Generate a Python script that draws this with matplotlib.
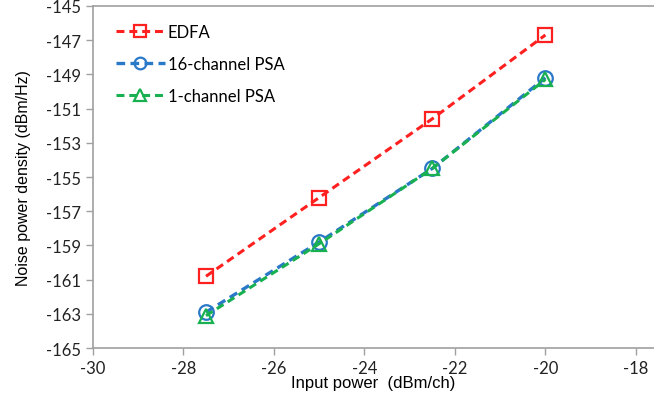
import matplotlib.pyplot as plt

# input power per channel (dBm/ch)
x_power = [-27.5, -25, -22.5, -20]

edfa = [-160.8, -156.2, -151.6, -146.7]
psa_16 = [-162.9, -158.8, -154.5, -149.2]
psa_1 = [-163.1, -158.9, -154.5, -149.3]

xticks = [-30, -28, -26, -24, -22, -20, -18]
yticks = [-165, -163, -161, -159, -157, -155, -153, -151, -149, -147, -145]

fig = plt.figure(figsize=(6.54, 4.06), dpi=100)
ax = fig.add_axes([0.142, 0.140, 0.858, 0.843])

ax.plot(x_power, edfa, color="#ff2020", ls=(0, (2.6, 1.6)), lw=2.2,
        marker="s", ms=10, mfc="none", mec="#ff2020", mew=1.6, label="EDFA")
ax.plot(x_power, psa_16, color="#2a78c8", ls=(0, (2.6, 1.6)), lw=2.4,
        marker="o", ms=10.5, mfc="none", mec="#2a78c8", mew=1.6, label="16-channel PSA")
ax.plot(x_power, psa_1, color="#18b050", ls=(0, (2.6, 1.6)), lw=2.2,
        marker="^", ms=10, mfc="none", mec="#18b050", mew=1.6, label="1-channel PSA")

ax.set_xlim(-30, -17.6)
ax.set_ylim(-165, -145)
ax.set_xticks(xticks)
ax.set_yticks(yticks)
ax.set_xticklabels([str(v) for v in xticks], family="Lato", fontsize=12, color="#222222")
ax.set_yticklabels([str(v) for v in yticks], family="Lato", fontsize=12, color="#222222")
ax.tick_params(color="#a0a0a0", length=5, width=1)

for s in ["left", "bottom", "top"]:
    ax.spines[s].set_color("#a0a0a0")
    ax.spines[s].set_linewidth(1.2)
ax.spines["right"].set_visible(False)

ax.set_xlabel("Input power  (dBm/ch)", family="Liberation Sans", fontsize=12, labelpad=-1)
ax.set_ylabel("Noise power density (dBm/Hz)", family="Liberation Sans", fontsize=11.5, labelpad=11)

leg = ax.legend(loc="upper left", frameon=False, prop={"family": "Lato", "size": 12},
                handlelength=2.9, markerscale=0.8, labelspacing=0.95,
                bbox_to_anchor=(0.015, 0.99), handletextpad=0.2)

fig.savefig("out.png", dpi=100)
